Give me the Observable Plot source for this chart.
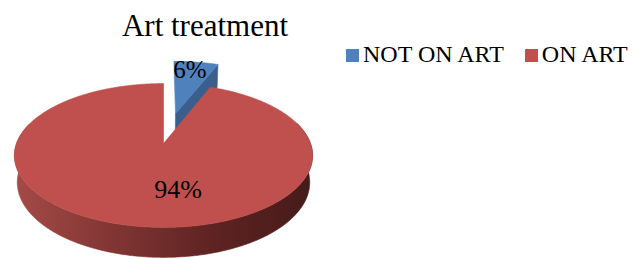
<!DOCTYPE html>
<html>
<head>
<meta charset="utf-8">
<script src="https://cdn.jsdelivr.net/npm/d3@7"></script>
<script src="https://cdn.jsdelivr.net/npm/@observablehq/plot@0.6"></script>
<style>
  body { margin: 0; background: #fff; }
  #wrap { position: relative; width: 633px; height: 259px; overflow: hidden;
          font-family: "Liberation Serif", "Times New Roman", serif; color: #000; }
  #title { position: absolute; left: 0; top: 10px; width: 410px; text-align: center;
           font-size: 31px; line-height: 31px; z-index: 2; }
  #chart { position: absolute; left: 0; top: 40px; z-index: 1; }
  #legend { position: absolute; left: 346px; top: 42px; font-size: 24px; line-height: 24px;
            white-space: nowrap; z-index: 2; }
  .sw { display: inline-block; width: 13px; height: 13px; margin-right: 4px; vertical-align: baseline; }
  .item + .item { margin-left: 21px; }
</style>
</head>
<body>
<div id="wrap">
  <div id="title">Art treatment</div>
  <div id="legend"></div>
  <div id="chart"></div>
</div>
<script>
// ---- data ----
const categories = ["NOT ON ART", "ON ART"];
const values = [6, 94];
const labels = ["6%", "94%"];

// ---- style / layout ----
const colors = ["#4F81BD", "#C0504D"];
const blueFace = "#3A5F8C";
const redSideStops = ["#A44A47", "#803533", "#5E2322", "#461B1A"];
const tilt = 28.4 * Math.PI / 180, D = 5.28, thick = 0.21;
const explode = [0.47, 0];
const W = 633, H = 219, R = 147, cxPx = 163, cyPx = 103;

function proj(u, v, z) {
  const depth = D + v * Math.cos(tilt) - z * Math.sin(tilt);
  return [u * D / depth, (v * Math.sin(tilt) + z * Math.cos(tilt)) * D / depth];
}

const total = d3.sum(values);
let acc = 0;
const slices = values.map((val, i) => {
  const a0 = acc / total * 2 * Math.PI; acc += val;
  const a1 = acc / total * 2 * Math.PI;
  const am = (a0 + a1) / 2;
  return {i, a0, a1, am, ou: explode[i] * Math.sin(am), ov: explode[i] * Math.cos(am)};
});
const pt = (s, a, r, z) => proj(s.ou + r * Math.sin(a), s.ov + r * Math.cos(a), z);

function arcPts(s, a0, a1, z) {
  const out = [];
  const n = Math.max(2, Math.ceil(Math.abs(a1 - a0) / (Math.PI / 360)));
  for (let k = 0; k <= n; k++) out.push(pt(s, a0 + (a1 - a0) * k / n, 1, z));
  return out;
}
const rowsOf = (pts, id, c) => pts.map(p => ({id, x: p[0], y: p[1], c}));

function topFace(s, id) {
  const p0 = pt(s, 0, 0, 0);
  return rowsOf([p0, ...arcPts(s, s.a0, s.a1, 0), p0], id, colors[s.i]);
}
// curved outer side: only the part of the slice's rim in the front half is visible
function outerSide(s, id, c) {
  const lo = Math.max(s.a0, Math.PI / 2 - 0.3), hi = Math.min(s.a1, 3 * Math.PI / 2 + 0.3);
  if (hi <= lo) return [];
  const top = arcPts(s, lo, hi, 0), bot = arcPts(s, hi, lo, -thick);
  return rowsOf([...top, ...bot, top[0]], id, c);
}
function radialFace(s, a, id, c) {
  return rowsOf([pt(s, 0, 0, 0), pt(s, a, 1, 0), pt(s, a, 1, -thick), pt(s, 0, 0, -thick), pt(s, 0, 0, 0)], id, c);
}

const blue = slices[0], red = slices[1];
const blueRows = [...radialFace(blue, blue.a1, "br", blueFace), ...topFace(blue, "bt")];
const redSideRows = outerSide(red, "rs", "url(#redSideGrad)");
const redTopRows = topFace(red, "rt");

const poly = (rows, opts = {}) => Plot.line(rows, {x: "x", y: "y", z: "id", fill: "c", stroke: "c",
  strokeWidth: 0.6, curve: "linear", ...opts});
const labelPos = (s, r) => pt(s, s.am, r, 0);

// gradient definition for the shaded side (horizontal, across the pie's width)
const gradientDefs = (index, scales) => {
  const ns = "http://www.w3.org/2000/svg";
  const defs = document.createElementNS(ns, "defs");
  const g = document.createElementNS(ns, "linearGradient");
  g.setAttribute("id", "redSideGrad");
  g.setAttribute("gradientUnits", "userSpaceOnUse");
  g.setAttribute("x1", scales.x(-1)); g.setAttribute("x2", scales.x(1));
  g.setAttribute("y1", 0); g.setAttribute("y2", 0);
  redSideStops.forEach((c, k) => {
    const st = document.createElementNS(ns, "stop");
    st.setAttribute("offset", k / (redSideStops.length - 1));
    st.setAttribute("stop-color", c);
    g.appendChild(st);
  });
  defs.appendChild(g);
  return defs;
};

const chart = Plot.plot({
  width: W, height: H, margin: 0,
  x: {domain: [-cxPx / R, (W - cxPx) / R], axis: null},
  y: {domain: [-(H - cyPx) / R, cyPx / R], axis: null},
  color: {type: "identity"},
  style: {fontFamily: "'Liberation Serif', 'Times New Roman', serif", background: "transparent"},
  marks: [
    gradientDefs,
    poly(blueRows),
    Plot.line(redSideRows, {x: "x", y: "y", z: "id", fill: "url(#redSideGrad)", stroke: "url(#redSideGrad)",
      strokeWidth: 0.6, curve: "linear"}),
    poly(redTopRows),
    Plot.text([blue], {x: d => labelPos(d, 0.82)[0], y: d => labelPos(d, 0.82)[1], text: d => labels[d.i],
      fontSize: 25, fill: "#000", dx: -3}),
    Plot.text([red], {x: d => labelPos(d, 0.6)[0], y: d => labelPos(d, 0.6)[1], text: d => labels[d.i],
      fontSize: 26, fill: "#000", dx: 33})
  ]
});
document.getElementById("chart").appendChild(chart);

const legend = document.getElementById("legend");
categories.forEach((cat, i) => {
  const item = document.createElement("span");
  item.className = "item";
  const sw = document.createElement("span");
  sw.className = "sw";
  sw.style.background = colors[i];
  item.appendChild(sw);
  item.appendChild(document.createTextNode(cat));
  legend.appendChild(item);
});
</script>
</body>
</html>
